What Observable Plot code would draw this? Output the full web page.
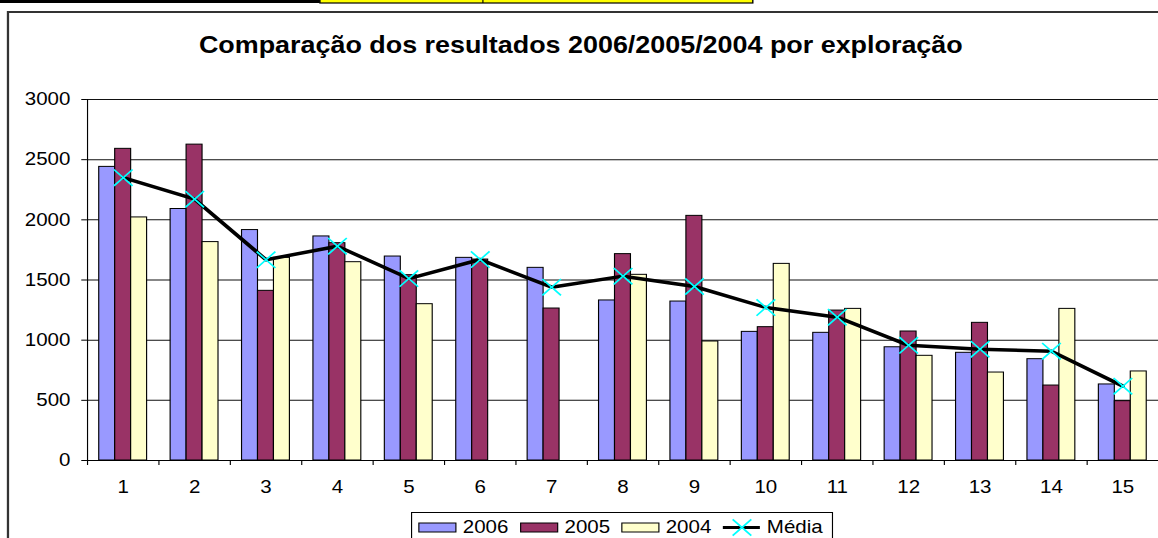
<!DOCTYPE html>
<html><head><meta charset="utf-8">
<script src="https://cdn.jsdelivr.net/npm/d3@7"></script>
<script src="https://cdn.jsdelivr.net/npm/@observablehq/plot@0.6"></script>
<style>
html,body{margin:0;padding:0;background:#fff;overflow:hidden;width:1158px;height:538px}
#root{position:absolute;left:0;top:0;width:1016px;height:538px;transform:scaleX(1.13976);transform-origin:0 0;font-family:"Liberation Sans",Arial,sans-serif}
#deco{position:absolute;left:0;top:0}
#chart{position:absolute;left:0;top:70px}
</style></head><body>
<div id="root"><svg id="deco" width="1016" height="538"></svg><div id="chart"></div></div>
<script>
const categories = ["1","2","3","4","5","6","7","8","9","10","11","12","13","14","15"];
const seriesNames = ["2006","2005","2004"];
const seriesColors = ["#9999FF","#993366","#FFFFCC"];
const v2006 = [2440, 2090, 1915, 1862, 1695, 1684, 1601, 1330, 1321, 1069, 1061, 941, 895, 842, 632];
const v2005 = [2590, 2625, 1410, 1806, 1540, 1670, 1263, 1715, 2033, 1108, 1246, 1072, 1144, 623, 493];
const v2004 = [2020, 1815, 1684, 1648, 1299, null, null, 1543, 989, 1634, 1260, 870, 731, 1260, 740];
const media = [2350, 2172, 1668, 1781, 1512, 1670, 1440, 1532, 1446, 1271, 1191, 957, 925, 908, 618];
const yTicks = [0, 500, 1000, 1500, 2000, 2500, 3000];
const titleText = "Comparação dos resultados 2006/2005/2004 por exploração";
const mediaLabel = "Média";

const seriesValues = [v2006, v2005, v2004];
const W = 1016, ML = 76.3;
const step = (W - ML) / categories.length;
const bw = 14;
const inset = (step - bw) / 2;
const rows = categories.map((c, i) => ({cat: c, media: media[i]}));

const barMarks = seriesNames.map((s, k) => Plot.barY(
  categories.map((c, i) => ({cat: c, v: seriesValues[k][i]})).filter(d => d.v != null),
  {x: "cat", y: "v", fill: seriesColors[k], stroke: "#000", strokeWidth: 1,
   insetLeft: inset, insetRight: inset, dx: (k - 1) * bw}
));

const chart = Plot.plot({
  width: W, height: 430,
  marginLeft: ML, marginRight: 0, marginTop: 29, marginBottom: 40,
  x: {domain: categories, padding: 0, round: false, label: null},
  y: {domain: [0, 3000], label: null},
  style: {fontFamily: '"Liberation Sans", Arial, sans-serif', fontSize: "18px", color: "#000", background: "transparent", overflow: "visible"},
  marks: [
    Plot.ruleY(yTicks.filter(t => t > 0), {stroke: "#111", strokeWidth: 1, strokeOpacity: 1}),
    ...barMarks,
    Plot.ruleY([0], {stroke: "#000", strokeWidth: 1, strokeOpacity: 1}),
    Plot.ruleX([categories[0]], {dx: -step / 2, stroke: "#000", strokeOpacity: 1}),
    Plot.axisY({ticks: yTicks, tickSize: 5, tickPadding: 10, tickFormat: d => String(d), stroke: "#000", strokeOpacity: 1}),
    Plot.axisX({tickSize: 5, tickFormat: () => "", dx: -step / 2, stroke: "#000", strokeOpacity: 1}),
    Plot.axisX({tickSize: 0, tickPadding: 20}),
    Plot.line(rows, {x: "cat", y: "media", stroke: "#000", strokeWidth: 3.5}),
    Plot.dot(rows, {x: "cat", y: "media", symbol: "times", r: 7.5, stroke: "#00FFFF", strokeWidth: 1.6})
  ]
});
document.getElementById("chart").appendChild(chart);

// decorations: header strip, frame, title, legend
const deco = d3.select("#deco");
deco.append("rect").attr("x", 0).attr("y", 0).attr("width", 280.7).attr("height", 3).attr("fill", "#000");
deco.append("rect").attr("x", 280.7).attr("y", -2).attr("width", 379.8).attr("height", 5).attr("fill", "#FFFF00").attr("stroke", "#000").attr("stroke-width", 1.2);
deco.append("line").attr("x1", 423.7).attr("x2", 423.7).attr("y1", 0).attr("y2", 3).attr("stroke", "#000");
deco.append("rect").attr("x", 7).attr("y", 12).attr("width", 2000).attr("height", 2000).attr("fill", "none").attr("stroke", "#333").attr("stroke-width", 2);
deco.append("text").attr("x", 509.6).attr("y", 53).attr("text-anchor", "middle")
  .attr("font-weight", "bold").attr("font-size", 23.6).attr("fill", "#000").text(titleText);

const lg = deco.append("g");
lg.append("rect").attr("x", 361.1).attr("y", 512.5).attr("width", 369.3).attr("height", 40).attr("fill", "#fff").attr("stroke", "#000").attr("stroke-width", 1);
const swX = [367.5, 456.8, 545.6];
seriesNames.forEach((s, k) => {
  lg.append("rect").attr("x", swX[k]).attr("y", 523).attr("width", 32.5).attr("height", 9)
    .attr("fill", seriesColors[k]).attr("stroke", "#000").attr("stroke-width", 1);
  lg.append("text").attr("x", swX[k] + 38.5).attr("y", 533).attr("font-size", 18).attr("fill", "#000").text(s);
});
lg.append("line").attr("x1", 634.2).attr("x2", 666.7).attr("y1", 527.5).attr("y2", 527.5).attr("stroke", "#000").attr("stroke-width", 3);
lg.append("path").attr("d", d3.symbol(d3.symbolTimes, Math.PI * 7.5 * 7.5)()).attr("transform", "translate(651,527.5)")
  .attr("fill", "none").attr("stroke", "#00FFFF").attr("stroke-width", 1.6);
lg.append("text").attr("x", 672.8).attr("y", 533).attr("font-size", 18).attr("fill", "#000").text(mediaLabel);
</script>
</body></html>
